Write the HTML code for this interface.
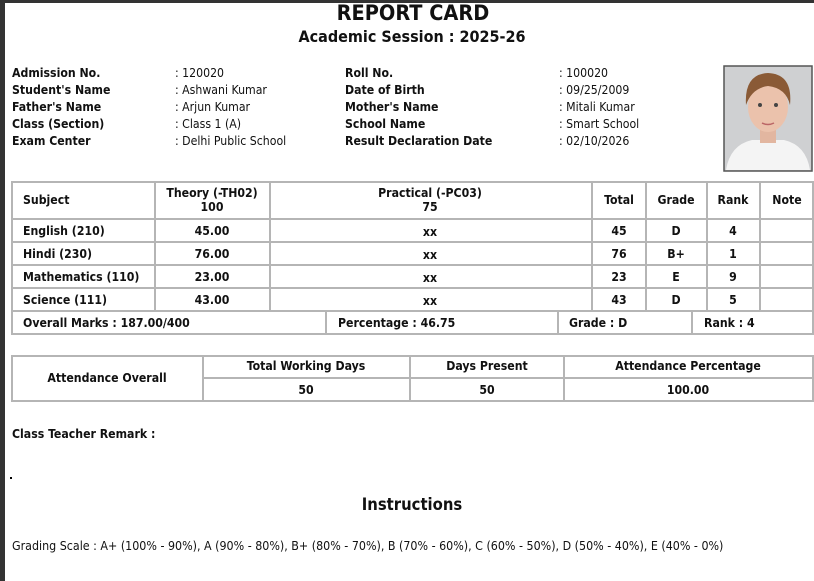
<!DOCTYPE html>
<html><head><meta charset="utf-8"><style>
html,body{margin:0;padding:0;}
body{width:814px;height:581px;background:#fff;position:relative;overflow:hidden;font-family:"DejaVu Sans Condensed","DejaVu Sans","Liberation Sans",sans-serif;color:#111;}
.t{position:absolute;white-space:nowrap;font-size:12.2px;line-height:14px;}
.b{font-weight:bold;}
.c{transform:translateX(-50%);text-align:center;}
</style></head><body>
<div style="position:absolute;left:0;top:0;width:814px;height:3px;background:#333"></div>
<div style="position:absolute;left:0;top:0;width:5px;height:581px;background:#333"></div>
<svg style="position:absolute;left:0;top:0" width="814" height="581">
<g stroke="#b5b5b5" stroke-width="2" fill="none">
<rect x="12" y="182" width="801" height="152"/>
<line x1="12" y1="219" x2="813" y2="219"/>
<line x1="12" y1="242" x2="813" y2="242"/>
<line x1="12" y1="265" x2="813" y2="265"/>
<line x1="12" y1="288" x2="813" y2="288"/>
<line x1="12" y1="311" x2="813" y2="311"/>
<line x1="155" y1="182" x2="155" y2="311"/>
<line x1="270" y1="182" x2="270" y2="311"/>
<line x1="592" y1="182" x2="592" y2="311"/>
<line x1="646" y1="182" x2="646" y2="311"/>
<line x1="707" y1="182" x2="707" y2="311"/>
<line x1="760" y1="182" x2="760" y2="311"/>
<line x1="326" y1="311" x2="326" y2="334"/>
<line x1="558" y1="311" x2="558" y2="334"/>
<line x1="692" y1="311" x2="692" y2="334"/>
<rect x="12" y="356" width="801" height="45"/>
<line x1="203" y1="378" x2="813" y2="378"/>
<line x1="203" y1="356" x2="203" y2="401"/>
<line x1="410" y1="356" x2="410" y2="401"/>
<line x1="564" y1="356" x2="564" y2="401"/>
</g>
<rect x="724" y="66" width="88" height="105" fill="#cfd0d2" stroke="#555" stroke-width="1.5"/>
<path d="M726 170 Q730 145 752 140 L784 140 Q806 145 810 170 Z" fill="#f4f4f4"/>
<rect x="760" y="125" width="16" height="18" fill="#e2b6a0"/>
<ellipse cx="768" cy="107" rx="20" ry="25" fill="#ebc2ac"/>
<path d="M746 105 Q744 74 768 73 Q793 74 790 105 Q786 88 768 86 Q752 88 746 105Z" fill="#8a5a36"/>
<circle cx="760" cy="105" r="2" fill="#444"/><circle cx="776" cy="105" r="2" fill="#444"/>
<path d="M762 123 Q768 126 774 123" stroke="#b66" stroke-width="1.5" fill="none"/>
<rect x="10" y="477" width="2" height="2" fill="#000"/>
</svg>
<div class="t b c" style="left:413px;top:2px;font-size:21.5px;line-height:24px">REPORT CARD</div>
<div class="t b c" style="left:412px;top:27px;font-size:16px;line-height:19px">Academic Session : 2025-26</div>

<div class="t b" style="left:12px;top:66px">Admission No.</div>
<div class="t b" style="left:12px;top:83px">Student's Name</div>
<div class="t b" style="left:12px;top:100px">Father's Name</div>
<div class="t b" style="left:12px;top:117px">Class (Section)</div>
<div class="t b" style="left:12px;top:134px">Exam Center</div>
<div class="t" style="left:175px;top:66px">: 120020</div>
<div class="t" style="left:175px;top:83px">: Ashwani Kumar</div>
<div class="t" style="left:175px;top:100px">: Arjun Kumar</div>
<div class="t" style="left:175px;top:117px">: Class 1 (A)</div>
<div class="t" style="left:175px;top:134px">: Delhi Public School</div>
<div class="t b" style="left:345px;top:66px">Roll No.</div>
<div class="t b" style="left:345px;top:83px">Date of Birth</div>
<div class="t b" style="left:345px;top:100px">Mother's Name</div>
<div class="t b" style="left:345px;top:117px">School Name</div>
<div class="t b" style="left:345px;top:134px">Result Declaration Date</div>
<div class="t" style="left:559px;top:66px">: 100020</div>
<div class="t" style="left:559px;top:83px">: 09/25/2009</div>
<div class="t" style="left:559px;top:100px">: Mitali Kumar</div>
<div class="t" style="left:559px;top:117px">: Smart School</div>
<div class="t" style="left:559px;top:134px">: 02/10/2026</div>

<div class="t b" style="left:23px;top:193px">Subject</div>
<div class="t b c" style="left:212px;top:186px">Theory (-TH02)<br>100</div>
<div class="t b c" style="left:430px;top:186px">Practical (-PC03)<br>75</div>
<div class="t b c" style="left:619px;top:193px">Total</div>
<div class="t b c" style="left:676px;top:193px">Grade</div>
<div class="t b c" style="left:733px;top:193px">Rank</div>
<div class="t b c" style="left:787px;top:193px">Note</div>

<div class="t b" style="left:23px;top:224px">English (210)</div>
<div class="t b" style="left:23px;top:247px">Hindi (230)</div>
<div class="t b" style="left:23px;top:270px">Mathematics (110)</div>
<div class="t b" style="left:23px;top:293px">Science (111)</div>
<div class="t b c" style="left:212px;top:224px">45.00</div>
<div class="t b c" style="left:212px;top:247px">76.00</div>
<div class="t b c" style="left:212px;top:270px">23.00</div>
<div class="t b c" style="left:212px;top:293px">43.00</div>
<div class="t b c" style="left:430px;top:225px">xx</div>
<div class="t b c" style="left:430px;top:248px">xx</div>
<div class="t b c" style="left:430px;top:271px">xx</div>
<div class="t b c" style="left:430px;top:294px">xx</div>
<div class="t b c" style="left:619px;top:224px">45</div>
<div class="t b c" style="left:619px;top:247px">76</div>
<div class="t b c" style="left:619px;top:270px">23</div>
<div class="t b c" style="left:619px;top:293px">43</div>
<div class="t b c" style="left:676px;top:224px">D</div>
<div class="t b c" style="left:676px;top:247px">B+</div>
<div class="t b c" style="left:676px;top:270px">E</div>
<div class="t b c" style="left:676px;top:293px">D</div>
<div class="t b c" style="left:733px;top:224px">4</div>
<div class="t b c" style="left:733px;top:247px">1</div>
<div class="t b c" style="left:733px;top:270px">9</div>
<div class="t b c" style="left:733px;top:293px">5</div>

<div class="t b" style="left:23px;top:316px">Overall Marks : 187.00/400</div>
<div class="t b" style="left:338px;top:316px">Percentage : 46.75</div>
<div class="t b" style="left:569px;top:316px">Grade : D</div>
<div class="t b" style="left:704px;top:316px">Rank : 4</div>

<div class="t b c" style="left:107px;top:371px">Attendance Overall</div>
<div class="t b c" style="left:306px;top:359px">Total Working Days</div>
<div class="t b c" style="left:487px;top:359px">Days Present</div>
<div class="t b c" style="left:688px;top:359px">Attendance Percentage</div>
<div class="t b c" style="left:306px;top:383px">50</div>
<div class="t b c" style="left:487px;top:383px">50</div>
<div class="t b c" style="left:688px;top:383px">100.00</div>

<div class="t b" style="left:12px;top:427px">Class Teacher Remark :</div>
<div class="t b c" style="left:412px;top:495px;font-size:16.5px;line-height:19px">Instructions</div>
<div class="t" style="left:12px;top:539px;font-size:12.35px">Grading Scale : A+ (100% - 90%), A (90% - 80%), B+ (80% - 70%), B (70% - 60%), C (60% - 50%), D (50% - 40%), E (40% - 0%)</div>
</body></html>
